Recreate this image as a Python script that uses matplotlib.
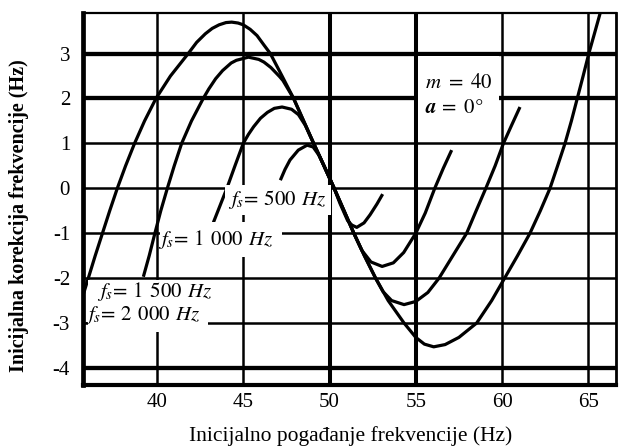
import numpy as np
import matplotlib
matplotlib.use('Agg')
import matplotlib.pyplot as plt
from matplotlib.patches import Rectangle

plt.rcParams['font.family'] = ['Liberation Serif', 'DejaVu Serif']
plt.rcParams['mathtext.fontset'] = 'stix'
plt.rcParams['axes.unicode_minus'] = False

# initial guess (Hz) vs. initial correction (Hz) for four sampling rates
x_2000 = [35.70, 36.02, 36.42, 36.84, 37.26, 37.70, 38.18, 38.70, 39.28, 39.94,
          40.78, 41.81, 42.30, 42.80, 43.20, 43.60, 44.00, 44.33, 44.70, 45.00,
          45.40, 45.80, 46.20, 46.57, 47.25, 47.92, 48.50, 49.08, 49.68, 50.27,
          50.84, 51.41, 52.02, 52.67, 53.40, 54.32, 55.00, 55.50, 56.04, 56.70,
          57.50, 58.53, 59.40, 60.15, 60.90, 61.62, 62.22, 62.78, 63.22, 63.65,
          64.02, 64.36, 64.70, 65.03, 65.36, 65.68]
y_2000 = [-2.40, -2.00, -1.50, -1.00, -0.50, 0.00, 0.50, 1.00, 1.50, 2.00,
          2.50, 3.00, 3.25, 3.44, 3.56, 3.64, 3.69, 3.70, 3.68, 3.64,
          3.54, 3.40, 3.19, 3.00, 2.50, 2.00, 1.50, 1.00, 0.50, 0.00,
          -0.50, -1.00, -1.50, -2.00, -2.50, -3.00, -3.32, -3.47, -3.53, -3.48,
          -3.32, -3.00, -2.50, -2.00, -1.50, -1.00, -0.50, 0.00, 0.50, 1.00,
          1.50, 2.00, 2.50, 3.00, 3.45, 3.89]

x_1500 = [39.21, 39.55, 39.88, 40.22, 40.60, 41.00, 41.43, 42.00, 42.68, 43.00,
          43.40, 43.80, 44.30, 44.60, 45.30, 45.90, 46.20, 46.60, 47.10, 47.30,
          47.92, 48.50, 49.08, 49.68, 50.27, 50.84, 51.41, 52.02, 52.67, 53.10,
          53.60, 54.32, 55.00, 55.70, 56.35, 57.15, 57.95, 58.50, 59.06, 59.60,
          60.08, 60.55, 61.04]
y_1500 = [-1.97, -1.50, -1.00, -0.50, 0.00, 0.50, 1.00, 1.50, 2.00, 2.21,
          2.44, 2.62, 2.79, 2.85, 2.92, 2.87, 2.81, 2.69, 2.49, 2.40,
          2.00, 1.50, 1.00, 0.50, 0.00, -0.50, -1.00, -1.50, -2.00, -2.30,
          -2.50, -2.59, -2.52, -2.32, -2.00, -1.50, -1.00, -0.50, 0.00, 0.50,
          1.00, 1.40, 1.81]

x_1000 = [43.27, 43.66, 44.05, 44.52, 45.00, 45.30, 45.60, 46.00, 46.40, 46.80,
          47.25, 47.80, 48.20, 48.60, 49.08, 49.68, 50.27, 50.84, 51.41, 51.87,
          52.40, 53.05, 53.70, 54.30, 55.00, 55.55, 56.10, 56.60, 57.08]
y_1000 = [-0.76, -0.38, 0.00, 0.50, 1.00, 1.20, 1.37, 1.56, 1.69, 1.78,
          1.81, 1.76, 1.64, 1.40, 1.00, 0.50, 0.00, -0.50, -1.00, -1.38,
          -1.64, -1.74, -1.66, -1.43, -1.00, -0.55, 0.00, 0.45, 0.85]

x_500 = [47.15, 47.42, 47.71, 48.19, 48.70, 49.05, 49.40, 49.68, 50.27, 50.60,
         51.05, 51.30, 51.58, 52.00, 52.35, 52.75, 53.08]
y_500 = [0.18, 0.42, 0.63, 0.85, 0.96, 0.92, 0.73, 0.50, 0.00, -0.33,
         -0.72, -0.82, -0.87, -0.77, -0.59, -0.35, -0.13]

xticks = [40, 45, 50, 55, 60, 65]
yticks = [-4, -3, -2, -1, 0, 1, 2, 3]
thick_x = [50, 55]
thick_y = [-4, 2, 3]

fig = plt.figure(figsize=(6.19, 4.47), dpi=100)
ax = fig.add_axes([0.1346, 0.1387, 0.8604, 0.8329])

for v in xticks:
    ax.axvline(v, color='black', lw=2.9 if v in thick_x else 1.8, zorder=2)
for v in yticks:
    ax.axhline(v, color='black', lw=3.1 if v in thick_y else 1.8, zorder=2)

for xs, ys in [(x_2000, y_2000), (x_1500, y_1500), (x_1000, y_1000), (x_500, y_500)]:
    ax.plot(xs, ys, color='black', lw=2.3, solid_joinstyle='round',
            solid_capstyle='butt', zorder=2.6)

# white patches behind the curve labels
for (x0, x1, y0, y1) in [(43.94, 50.09, -0.59, 0.07),
                         (40.17, 47.25, -1.53, -0.75),
                         (36.00, 42.96, -3.21, -2.04),
                         (55.13, 59.80, 1.04, 2.94)]:
    ax.add_patch(Rectangle((x0, y0), x1 - x0, y1 - y0, facecolor='white',
                           edgecolor='none', zorder=3))

lab = dict(fontsize=15, ha='left', va='baseline', zorder=4)
ax.text(44.12, -0.37, r'$f_s\!=\,500\;\,Hz$', **lab)
ax.text(40.06, -1.26, r'$f_s\!=\,1\;\,000\;\,Hz$', **lab)
ax.text(36.52, -2.41, r'$f_s\!=\,1\;\,500\;\,Hz$', **lab)
ax.text(35.83, -2.93, r'$f_s\!=\,2\;\,000\;\,Hz$', **lab)
ax.text(55.54, 2.23, r'$m\ =\ 40$', **lab)
ax.text(55.54, 1.67, r'$\mathbfit{a}\,=\ 0\degree$', **lab)

ax.set_xlim(35.73, 66.6)
ax.set_ylim(-4.38, 3.91)
ax.set_xticks(xticks)
ax.set_yticks(yticks)
ax.tick_params(length=0, labelsize=15)
ax.tick_params(axis='y', pad=9.5)
ax.tick_params(axis='x', pad=6)

for side, w in [('left', 3.4), ('bottom', 3.0), ('top', 1.6), ('right', 2.0)]:
    ax.spines[side].set_linewidth(w)
    ax.spines[side].set_zorder(5)

fig.text(351 / 619, 1 - 436 / 447, 'Inicijalno pogađanje frekvencije (Hz)',
         fontsize=15.5, ha='center', va='center')
fig.text(19 / 619, 1 - 216 / 447, 'Inicijalna korekcija frekvencije (Hz)',
         fontsize=14.5, fontweight='bold', rotation=90, ha='center', va='center')

fig.savefig('out.png', dpi=100)
